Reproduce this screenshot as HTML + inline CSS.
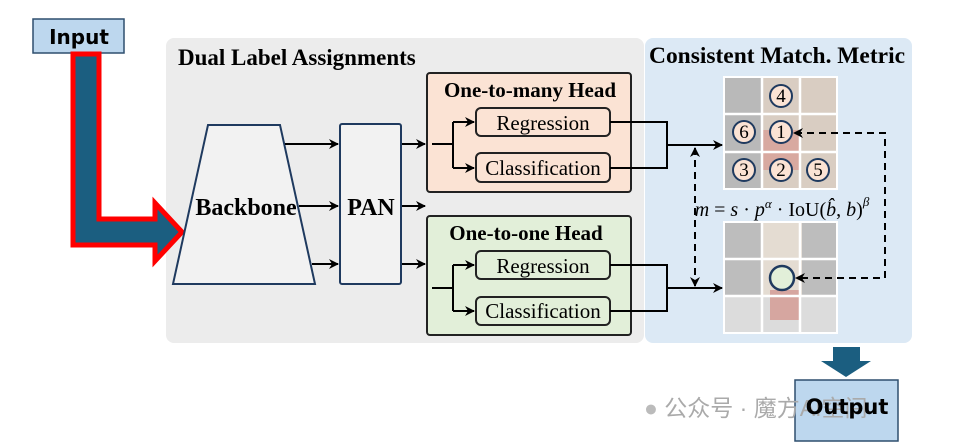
<!DOCTYPE html>
<html><head><meta charset="utf-8"><style>
html,body{margin:0;padding:0;background:#fff}
svg{display:block}
.s{font-family:"Liberation Serif",serif}
</style></head><body>
<svg width="955" height="445" viewBox="0 0 955 445" xmlns="http://www.w3.org/2000/svg">
<defs>
<marker id="a" markerWidth="10" markerHeight="10" refX="9" refY="5" orient="auto" markerUnits="userSpaceOnUse"><path d="M0,0 L10,5 L0,10 L3,5 z" fill="#000"/></marker>
<marker id="b" markerWidth="10" markerHeight="10" refX="9" refY="5" orient="auto-start-reverse" markerUnits="userSpaceOnUse"><path d="M0,0 L10,5 L0,10 L3,5 z" fill="#000"/></marker>
</defs>
<rect x="166" y="38" width="478" height="305" rx="8" fill="#ececec"/>
<rect x="645" y="38" width="267" height="305" rx="8" fill="#dce9f5"/>
<text x="178" y="65" class="s" font-size="23" font-weight="bold">Dual Label Assignments</text>
<text x="649" y="63" class="s" font-size="23" font-weight="bold" textLength="256" lengthAdjust="spacingAndGlyphs">Consistent Match. Metric</text>
<rect x="33" y="19" width="91" height="34" fill="#bdd7ee" stroke="#2f4f6f" stroke-width="1.5"/>
<text x="79" y="44" text-anchor="middle" font-family="DejaVu Sans,sans-serif" font-size="20" font-weight="bold">Input</text>
<path d="M73,54 L99,54 L99,219 L155,219 L155,203 L182,232 L155,261 L155,245 L73,245 Z" fill="#1b5e80" stroke="#f00" stroke-width="5" stroke-linejoin="miter"/>
<path d="M208,125 L280,125 L315,284 L173,284 Z" fill="#f2f2f2" stroke="#1f3a5f" stroke-width="2"/>
<text x="246" y="215" text-anchor="middle" class="s" font-size="24" font-weight="bold">Backbone</text>
<rect x="340" y="124" width="61" height="160" rx="2" fill="#f2f2f2" stroke="#1f3a5f" stroke-width="2"/>
<text x="371" y="215" text-anchor="middle" class="s" font-size="24" font-weight="bold">PAN</text>
<g stroke="#000" stroke-width="2" fill="none">
<line x1="285" y1="144" x2="338" y2="144" marker-end="url(#a)"/>
<line x1="299" y1="206" x2="338" y2="206" marker-end="url(#a)"/>
<line x1="312" y1="264" x2="338" y2="264" marker-end="url(#a)"/>
<line x1="402" y1="144" x2="425" y2="144" marker-end="url(#a)"/>
<line x1="402" y1="206" x2="425" y2="206" marker-end="url(#a)"/>
<line x1="402" y1="264" x2="425" y2="264" marker-end="url(#a)"/>
</g>
<rect x="427" y="73" width="204" height="119" rx="3" fill="#fbe3d4" stroke="#222" stroke-width="2"/>
<text x="530" y="97" text-anchor="middle" class="s" font-size="21" font-weight="bold">One-to-many Head</text>
<rect x="427" y="216" width="204" height="119" rx="3" fill="#e2efd9" stroke="#222" stroke-width="2"/>
<text x="526" y="240" text-anchor="middle" class="s" font-size="21" font-weight="bold">One-to-one Head</text>
<g fill="none" stroke="#222" stroke-width="2">
<rect x="476" y="108" width="134" height="28" rx="5"/>
<rect x="476" y="153" width="134" height="29" rx="5"/>
<rect x="476" y="251" width="134" height="28" rx="5"/>
<rect x="476" y="297" width="134" height="28" rx="5"/>
</g>
<g class="s" font-size="21" text-anchor="middle">
<text x="543" y="130">Regression</text>
<text x="543" y="175">Classification</text>
<text x="543" y="273">Regression</text>
<text x="543" y="318">Classification</text>
</g>
<g stroke="#000" stroke-width="2" fill="none">
<line x1="432" y1="144" x2="453" y2="144"/>
<path d="M453,122 L453,168"/>
<line x1="453" y1="122" x2="474" y2="122" marker-end="url(#a)"/>
<line x1="453" y1="168" x2="474" y2="168" marker-end="url(#a)"/>
<line x1="432" y1="288" x2="453" y2="288"/>
<path d="M453,265 L453,311"/>
<line x1="453" y1="265" x2="474" y2="265" marker-end="url(#a)"/>
<line x1="453" y1="311" x2="474" y2="311" marker-end="url(#a)"/>
<path d="M610,122 L667,122 L667,168 L610,168"/>
<line x1="667" y1="145" x2="722" y2="145" marker-end="url(#a)"/>
<path d="M610,265 L667,265 L667,311 L610,311"/>
<line x1="667" y1="288" x2="722" y2="288" marker-end="url(#a)"/>
<line x1="695" y1="148" x2="695" y2="286" stroke-dasharray="7,5" marker-start="url(#b)" marker-end="url(#b)"/>
</g>
<g>
<rect x="724" y="77" width="113" height="112" fill="#b9b9b9"/>
<rect x="762" y="77" width="75" height="112" fill="#d9cdc2"/>
<rect x="762" y="130" width="38" height="40" fill="#d8a9a0"/>
<rect x="724" y="222" width="113" height="111" fill="#bdbdbd"/>
<rect x="762" y="222" width="40" height="111" fill="#e4dcd2"/>
<rect x="724" y="297" width="113" height="36" fill="#dcdcdc"/>
<rect x="770" y="290" width="30" height="30" fill="#d6a6a0"/>
<g stroke="#fff" stroke-width="2.5">
<line x1="762" y1="77" x2="762" y2="189"/><line x1="800" y1="77" x2="800" y2="189"/>
<line x1="724" y1="114" x2="837" y2="114"/><line x1="724" y1="152" x2="837" y2="152"/>
<line x1="762" y1="222" x2="762" y2="333"/><line x1="800" y1="222" x2="800" y2="333"/>
<line x1="724" y1="259" x2="837" y2="259"/><line x1="724" y1="296" x2="837" y2="296"/>
</g>
<rect x="724" y="77" width="113" height="112" fill="none" stroke="#fff" stroke-width="2"/>
<rect x="724" y="222" width="113" height="111" fill="none" stroke="#fff" stroke-width="2"/>
</g>
<g fill="#fbe3d4" stroke="#1f3a5f" stroke-width="2">
<circle cx="781" cy="96" r="11"/><circle cx="744" cy="132" r="11"/><circle cx="781" cy="132" r="11"/>
<circle cx="744" cy="170" r="11"/><circle cx="781" cy="170" r="11"/><circle cx="818" cy="170" r="11"/>
</g>
<circle cx="782" cy="278" r="12" fill="#e2efd9" stroke="#1f3a5f" stroke-width="2.5"/>
<g class="s" font-size="19" text-anchor="middle">
<text x="781" y="102">4</text><text x="744" y="138">6</text><text x="781" y="138">1</text>
<text x="744" y="176">3</text><text x="781" y="176">2</text><text x="818" y="176">5</text>
</g>
<g stroke="#000" stroke-width="2" fill="none" stroke-dasharray="7,5">
<path d="M795,133 L885,133 L885,278 L797,278"/>
</g>
<path d="M793,133 L803,128 L800,133 L803,138 Z M795,278 L805,273 L802,278 L805,283 Z" fill="#000"/>
<text x="782" y="216" text-anchor="middle" class="s" font-size="20"><tspan font-style="italic">m</tspan> = <tspan font-style="italic">s</tspan> · <tspan font-style="italic">p</tspan><tspan font-size="13" dy="-8" font-style="italic">α</tspan><tspan dy="8"> · IoU(</tspan><tspan font-style="italic">b̂</tspan>, <tspan font-style="italic">b</tspan>)<tspan font-size="13" dy="-10" font-style="italic">β</tspan></text>
<path d="M833,347 L860,347 L860,361 L871,361 L846,377 L821,361 L833,361 Z" fill="#1b5e80"/>
<rect x="795" y="380" width="103" height="61" fill="#bdd7ee" stroke="#2f4f6f" stroke-width="1.5"/>
<text x="644" y="416" font-family="WenQuanYi Zen Hei,sans-serif" font-size="23" fill="#aaa"><tspan fill="#bbb">●</tspan> 公众号 · 魔方AI空间</text>
<text x="847" y="414" text-anchor="middle" font-family="DejaVu Sans,sans-serif" font-size="21" font-weight="bold">Output</text>
</svg>
</body></html>
